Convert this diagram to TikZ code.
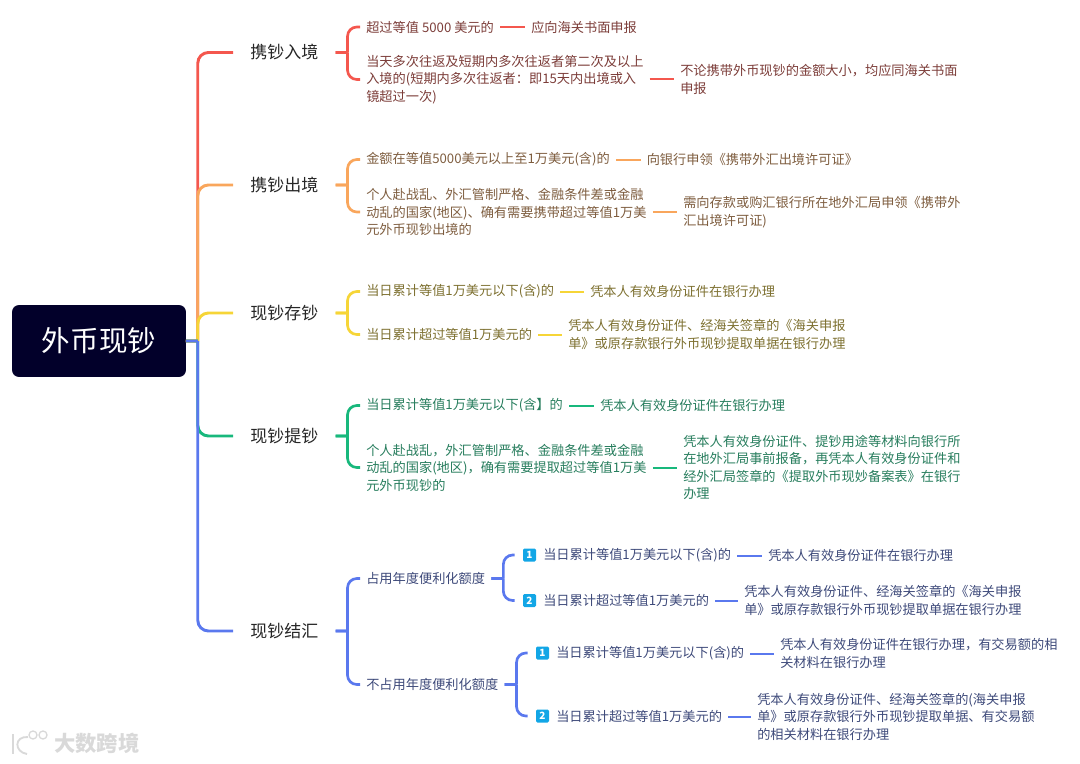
\documentclass[tikz,border=0pt]{standalone}
\usepackage{fontspec}
\setmainfont{Noto Sans CJK SC}
\usepackage{xcolor}
\definecolor{myred}{HTML}{F4574E}
\definecolor{myorange}{HTML}{F9A65C}
\definecolor{myyellow}{HTML}{F6D537}
\definecolor{mygreen}{HTML}{18B87C}
\definecolor{myblue}{HTML}{5A78EE}
\definecolor{myroot}{HTML}{02002A}
\definecolor{mybadge}{HTML}{12A6E6}
\tikzset{
  root node/.style={draw=myroot, fill=myroot, text=white, rounded corners=4.5pt, minimum width=129.75pt, minimum height=53.25pt, inner sep=0pt, font=\fontsize{21.4}{26}\selectfont},
  topic node/.style={anchor=west, inner xsep=12.75pt, inner ysep=0pt, text=black!85, font=\fontsize{12.75}{16}\selectfont},
  text node/.style={anchor=west, inner xsep=4.5pt, inner ysep=0pt, align=left, font=\fontsize{9.9}{13.1}\selectfont},
  badge node/.style={fill=mybadge, text=white, rounded corners=1pt, minimum size=9.75pt, inner sep=0pt, font=\fontsize{7.5}{9}\bfseries\selectfont},
  branch edge/.style={line width=2.2pt, rounded corners=8pt},
  child edge/.style={line width=2pt, rounded corners=7pt},
  leaf edge/.style={line width=1.5pt},
  node red/.style={text node, text=myred!45!black!90},
  node orange/.style={text node, text=myorange!45!black!90},
  node yellow/.style={text node, text=myyellow!45!black!90},
  node green/.style={text node, text=mygreen!60!black!90},
  node blue/.style={text node, text=myblue!45!black!90},
  mark text/.style={anchor=west, inner sep=0pt, text=black!15, font=\fontsize{16}{20}\bfseries\selectfont}
}
\begin{document}
\begin{tikzpicture}[x=0.75pt, y=-0.75pt]
  \useasboundingbox (0,0) rectangle (1080,763);

  % root and topics
  \node[root node] (root) at (99,341) {外币现钞};
  \node[topic node] (t_in) at (233,52.5) {携钞入境};
  \node[topic node] (t_out) at (233,185) {携钞出境};
  \node[topic node] (t_save) at (233,313) {现钞存钞};
  \node[topic node] (t_draw) at (233,436) {现钞提钞};
  \node[topic node] (t_fx) at (233,631) {现钞结汇};

  % branches from root, later ones lie over earlier ones
  \draw[branch edge, myred] (root.east) -- ++(12,0) ++(0,0) |- (t_in.west);
  \draw[branch edge, myorange] (root.east) -- ++(12,0) ++(0,0) |- (t_out.west);
  \draw[branch edge, myyellow] (root.east) -- ++(12,0) ++(0,0) |- (t_save.west);
  \draw[branch edge, mygreen] (root.east) -- ++(12,0) ++(0,0) |- (t_draw.west);
  \draw[branch edge, myblue] (root.east) -- ++(12,0) ++(0,0) |- (t_fx.west);

  % --- carrying in ---
  \node[node red] (in1) at (360,27) {超过等值 5000 美元的};
  \node[node red] (in2) at (360,79.5) {当天多次往返及短期内多次往返者第二次及以上\\入境的(短期内多次往返者：即15天内出境或入\\镜超过一次)};
  \node[node red] (in1_do) at (525,27) {应向海关书面申报};
  \node[node red] (in2_do) at (674,79.5) {不论携带外币现钞的金额大小，均应同海关书面\\申报};
  \draw[child edge, myred] (t_in.east) -- ++(12,0) ++(0,0) |- (in1.west);
  \draw[child edge, myred] (t_in.east) -- ++(12,0) ++(0,0) |- (in2.west);
  \draw[leaf edge, myred] (in1.east) -- (in1_do.west);
  \draw[leaf edge, myred] (in2.east) -- (in2_do.west);

  % --- carrying out ---
  \node[node orange] (out1) at (360,159.5) {金额在等值5000美元以上至1万美元(含)的};
  \node[node orange] (out2) at (360,212) {个人赴战乱、外汇管制严格、金融条件差或金融\\动乱的国家(地区)、确有需要携带超过等值1万美\\元外币现钞出境的};
  \node[node orange] (out1_do) at (640.5,159.5) {向银行申领《携带外汇出境许可证》};
  \node[node orange] (out2_do) at (677,212) {需向存款或购汇银行所在地外汇局申领《携带外\\汇出境许可证)};
  \draw[child edge, myorange] (t_out.east) -- ++(12,0) ++(0,0) |- (out1.west);
  \draw[child edge, myorange] (t_out.east) -- ++(12,0) ++(0,0) |- (out2.west);
  \draw[leaf edge, myorange] (out1.east) -- (out1_do.west);
  \draw[leaf edge, myorange] (out2.east) -- (out2_do.west);

  % --- deposit ---
  \node[node yellow] (save1) at (360,291.5) {当日累计等值1万美元以下(含)的};
  \node[node yellow] (save2) at (360,334.5) {当日累计超过等值1万美元的};
  \node[node yellow] (save1_do) at (584,291.5) {凭本人有效身份证件在银行办理};
  \node[node yellow] (save2_do) at (562,334.5) {凭本人有效身份证件、经海关签章的《海关申报\\单》或原存款银行外币现钞提取单据在银行办理};
  \draw[child edge, myyellow] (t_save.east) -- ++(12,0) ++(0,0) |- (save1.west);
  \draw[child edge, myyellow] (t_save.east) -- ++(12,0) ++(0,0) |- (save2.west);
  \draw[leaf edge, myyellow] (save1.east) -- (save1_do.west);
  \draw[leaf edge, myyellow] (save2.east) -- (save2_do.west);

  % --- withdrawal ---
  \node[node green] (draw1) at (360,405.5) {当日累计等值1万美元以下(含】的};
  \node[node green] (draw2) at (360,467.5) {个人赴战乱，外汇管制严格、金融条件差或金融\\动乱的国家(地区)，确有需要提取超过等值1万美\\元外币现钞的};
  \node[node green] (draw1_do) at (594,405.5) {凭本人有效身份证件在银行办理};
  \node[node green] (draw2_do) at (677,467.5) {凭本人有效身份证件、提钞用途等材料向银行所\\在地外汇局事前报备，再凭本人有效身份证件和\\经外汇局签章的《提取外币现妙备案表》在银行\\办理};
  \draw[child edge, mygreen] (t_draw.east) -- ++(12,0) ++(0,0) |- (draw1.west);
  \draw[child edge, mygreen] (t_draw.east) -- ++(12,0) ++(0,0) |- (draw2.west);
  \draw[leaf edge, mygreen] (draw1.east) -- (draw1_do.west);
  \draw[leaf edge, mygreen] (draw2.east) -- (draw2_do.west);

  % --- settlement ---
  \node[node blue] (fx1) at (360,578.5) {占用年度便利化额度};
  \node[node blue] (fx2) at (360,684.5) {不占用年度便利化额度};
  \draw[child edge, myblue] (t_fx.east) -- ++(12,0) ++(0,0) |- (fx1.west);
  \draw[child edge, myblue] (t_fx.east) -- ++(12,0) ++(0,0) |- (fx2.west);

  \node[badge node] (fx1_b1) at (529.5,555) {1};
  \node[badge node] (fx1_b2) at (529.5,600.5) {2};
  \node[node blue] (fx1_c1) at (537,555.5) {当日累计等值1万美元以下(含)的};
  \node[node blue] (fx1_c2) at (537,600.5) {当日累计超过等值1万美元的};
  \node[node blue] (fx1_d1) at (762,555.5) {凭本人有效身份证件在银行办理};
  \node[node blue] (fx1_d2) at (738,600.5) {凭本人有效身份证件、经海关签章的《海关申报\\单》或原存款银行外币现钞提取单据在银行办理};
  \draw[child edge, myblue, shorten >=6pt] (fx1.east) -- ++(12,0) ++(0,0) |- (fx1_b1.west);
  \draw[child edge, myblue, shorten >=6pt] (fx1.east) -- ++(12,0) ++(0,0) |- (fx1_b2.west);
  \draw[leaf edge, myblue] (fx1_c1.east) -- (fx1_d1.west);
  \draw[leaf edge, myblue] (fx1_c2.east) -- (fx1_d2.west);

  \node[badge node] (fx2_b1) at (542.5,653) {1};
  \node[badge node] (fx2_b2) at (542.5,716) {2};
  \node[node blue] (fx2_c1) at (550,653.5) {当日累计等值1万美元以下(含)的};
  \node[node blue] (fx2_c2) at (550,716.5) {当日累计超过等值1万美元的};
  \node[node blue] (fx2_d1) at (774,653.5) {凭本人有效身份证件在银行办理，有交易额的相\\关材料在银行办理};
  \node[node blue] (fx2_d2) at (751,716.5) {凭本人有效身份证件、经海关签章的(海关申报\\单》或原存款银行外币现钞提取单据、有交易额\\的相关材料在银行办理};
  \draw[child edge, myblue, shorten >=6pt] (fx2.east) -- ++(12,0) ++(0,0) |- (fx2_b1.west);
  \draw[child edge, myblue, shorten >=6pt] (fx2.east) -- ++(12,0) ++(0,0) |- (fx2_b2.west);
  \draw[leaf edge, myblue] (fx2_c1.east) -- (fx2_d1.west);
  \draw[leaf edge, myblue] (fx2_c2.east) -- (fx2_d2.west);

  % --- watermark ---
  \node[mark text] (mark) at (54,743) {大数跨境};
  \draw[black!15, line width=1.4pt] (13,734) -- (13,754);
  \draw[black!15, line width=1.4pt] (28,737) .. controls (14,736) and (14,752) .. (27,754);
  \draw[black!15, line width=1pt] (33,735) circle (4);
  \draw[black!15, line width=1pt] (43,735) circle (4);
\end{tikzpicture}
\end{document}
